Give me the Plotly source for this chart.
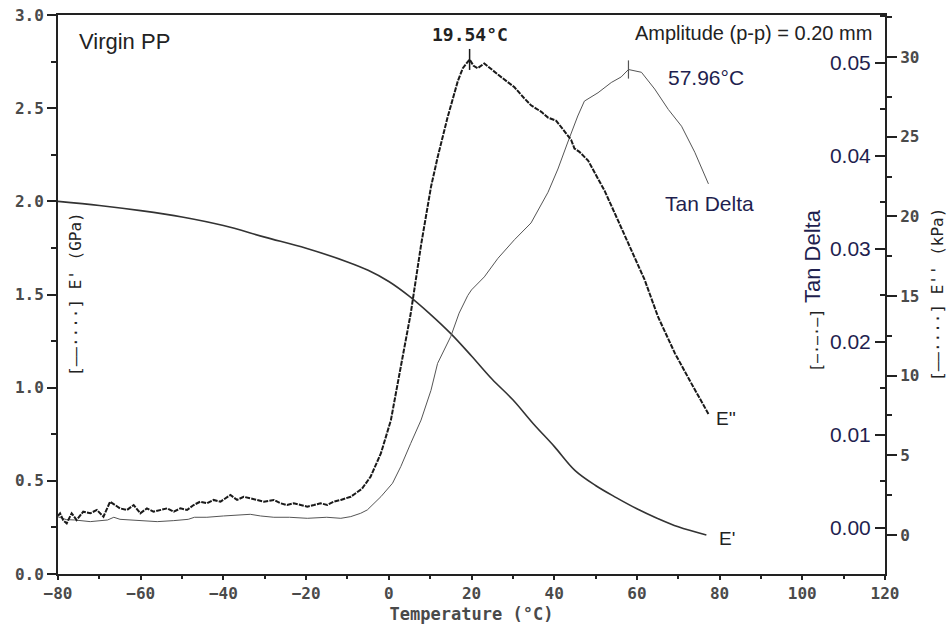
import plotly.graph_objects as go

# Storage modulus E' (GPa) vs temperature (°C)
temp_storage = [-80, -70, -60, -50, -40, -30, -20, -10, -5, 0, 5, 10,
                15, 20, 25, 30, 35, 40, 45, 50, 55, 60, 65, 70, 76.8]
e_storage_gpa = [2.000, 1.978, 1.950, 1.916, 1.870, 1.808, 1.748, 1.675, 1.630, 1.570, 1.490, 1.395,
                 1.290, 1.170, 1.045, 0.935, 0.805, 0.685, 0.556, 0.475, 0.410, 0.350, 0.298, 0.253, 0.209]

# Loss modulus E'' (kPa) vs temperature (°C)
temp_loss = [-80.0, -79.5, -78.7, -77.9, -76.7, -75.5, -73.9, -72.2, -70.6, -69.0, -67.4, -66.2,
             -65.0, -63.3, -61.7, -60.1, -58.5, -56.9, -55.3, -53.6, -52.0, -50.4, -48.8, -47.2,
             -45.6, -44.0, -42.4, -40.7, -38.3, -36.7, -35.1, -33.5, -31.8, -30.2, -27.8, -26.2,
             -24.6, -23.0, -21.3, -19.7, -18.1, -16.5, -14.9, -13.3, -11.6, -9.2, -6.5, -4.4,
             -1.9, 0.5, 2.9, 5.3, 7.8, 10.2, 11.8, 14.2, 16.7, 17.9, 19.54, 20.5,
             21.5, 23.1, 26.4, 30.4, 32.8, 34.4, 36.9, 38.5, 40.5, 42.5, 44.1, 44.9,
             46.1, 48.2, 52.2, 55.4, 58.7, 61.9, 65.1, 69.2, 73.2, 77.3]
e_loss_kpa = [1.2, 1.36, 0.9, 0.73, 1.36, 0.94, 1.46, 1.36, 1.57, 1.15, 2.09, 1.88,
              1.67, 1.57, 1.88, 1.36, 1.67, 1.46, 1.57, 1.67, 1.46, 1.67, 1.57, 1.88,
              2.09, 1.99, 2.20, 2.09, 2.51, 2.20, 2.40, 2.30, 2.20, 2.09, 2.20, 1.99,
              1.88, 1.99, 1.88, 1.78, 1.88, 1.99, 1.88, 2.09, 2.20, 2.40, 2.9, 3.66,
              5.13, 7.2, 10.56, 13.9, 18.2, 21.85, 23.7, 26.2, 28.5, 29.3, 29.85, 29.45,
              29.3, 29.6, 28.9, 28.1, 27.4, 26.97, 26.56, 26.2, 26.0, 25.3, 24.8, 24.26,
              24.05, 23.5, 21.6, 19.76, 17.9, 16.0, 13.7, 11.4, 9.5, 7.6]

# Tan Delta vs temperature (°C)
temp_tan = [-80.0, -78.0, -76.0, -72.2, -68.0, -66.5, -65.0, -60.0, -56.0, -52.0, -48.5, -47.0,
            -44.0, -40.0, -36.0, -33.5, -31.0, -27.8, -24.0, -19.7, -15.0, -11.6, -9.2, -6.8,
            -5.2, -1.9, 0.9, 2.9, 5.3, 7.8, 10.2, 11.8, 15.0, 17.0, 19.1, 20.0,
            23.1, 26.4, 30.4, 34.4, 38.5, 40.9, 43.3, 45.7, 47.3, 50.6, 53.8, 56.2,
            57.96, 61.1, 64.3, 67.6, 70.8, 74.0, 77.3]
tan_delta = [0.0012, 0.0009, 0.00086, 0.00068, 0.00086, 0.00115, 0.00093, 0.00079, 0.00068, 0.00079, 0.00093, 0.00115,
             0.00115, 0.00129, 0.0014, 0.00147, 0.00129, 0.00115, 0.00115, 0.00104, 0.00115, 0.00104, 0.00122, 0.00158,
             0.00194, 0.00337, 0.00481, 0.0066, 0.0091, 0.0116, 0.0148, 0.0177, 0.0206, 0.0231, 0.0250, 0.0256,
             0.0270, 0.0290, 0.0310, 0.0328, 0.0361, 0.0386, 0.0415, 0.0443, 0.0459, 0.0468, 0.0479, 0.0485,
             0.0493, 0.0490, 0.0472, 0.0450, 0.0432, 0.0404, 0.0370]

# Peak temperatures
peak_loss_temp = 19.54
peak_tan_temp = 57.96

x_ticks = [-80, -60, -40, -20, 0, 20, 40, 60, 80, 100, 120]
gpa_ticks = [0.0, 0.5, 1.0, 1.5, 2.0, 2.5, 3.0]
tan_ticks = [0.00, 0.01, 0.02, 0.03, 0.04, 0.05]
kpa_ticks = [0, 5, 10, 15, 20, 25, 30]

MONO = "DejaVu Sans Mono"
SANS = "Arial, Liberation Sans"
AXIS_GRAY = "#4a4a4a"
NAVY = "#1f1f4f"
INK = "#222222"

peak_loss_val = e_loss_kpa[temp_loss.index(peak_loss_temp)]
peak_tan_val = tan_delta[temp_tan.index(peak_tan_temp)]

fig = go.Figure()

fig.add_trace(go.Scatter(x=temp_storage, y=e_storage_gpa, mode="lines", name="E'",
                         line=dict(color="#333333", width=1.6, shape="spline", smoothing=1.0),
                         yaxis="y"))
fig.add_trace(go.Scatter(x=temp_loss, y=e_loss_kpa, mode="lines", name="E''",
                         line=dict(color="#1a1a1a", width=2.0, dash="5px,1.2px"), yaxis="y3"))
fig.add_trace(go.Scatter(x=temp_tan, y=tan_delta, mode="lines", name="Tan Delta",
                         line=dict(color="#555555", width=1.0), yaxis="y2"))

# peak tick marks
fig.add_trace(go.Scatter(x=[peak_loss_temp], y=[peak_loss_val], mode="markers", yaxis="y3",
                         marker=dict(symbol="line-ns", size=15, line=dict(color="#1a1a1a", width=1.5))))
fig.add_trace(go.Scatter(x=[peak_tan_temp], y=[peak_tan_val], mode="markers", yaxis="y2",
                         marker=dict(symbol="line-ns", size=13, line=dict(color="#555555", width=1.2))))

mono_tick = dict(family=MONO, size=16, color=AXIS_GRAY, weight="bold")

fig.update_layout(
    width=948, height=628,
    margin=dict(l=58, r=63, t=15, b=54),
    paper_bgcolor="white", plot_bgcolor="white",
    showlegend=False,
    xaxis=dict(
        range=[-80, 120], tickvals=x_ticks, showgrid=False, zeroline=False, automargin=False,
        showline=True, linecolor=INK, linewidth=2, mirror=True,
        ticks="outside", ticklen=4, tickwidth=1.5, tickcolor=INK,
        minor=dict(dtick=10, ticks="outside", ticklen=3, tickcolor=INK),
        tickfont=mono_tick,
        title=dict(text="Temperature (°C)", font=dict(family=MONO, size=17, color=AXIS_GRAY, weight="bold"),
                   standoff=6),
    ),
    yaxis=dict(
        range=[0, 3], tickvals=gpa_ticks, tickformat=".1f", showgrid=False, zeroline=False,
        showline=True, linecolor=INK, linewidth=2, automargin=False,
        ticks="outside", ticklen=9, tickwidth=1.5, tickcolor=INK,
        minor=dict(dtick=0.25, ticks="outside", ticklen=5, tickcolor=INK),
        tickfont=mono_tick,
    ),
    # Tan Delta scale: sits on the right frame edge, ticks and labels facing into the plot
    yaxis2=dict(
        range=[-0.00495, 0.05516], tickvals=tan_ticks, tickformat=".2f",
        overlaying="y", side="left", anchor="free", position=1.0,
        showgrid=False, zeroline=False, automargin=False,
        showline=False, ticks="outside", ticklen=10, tickwidth=1.5, tickcolor=INK,
        minor=dict(dtick=0.005, ticks="outside", ticklen=5, tickcolor=INK),
        tickfont=dict(family=SANS, size=21, color=NAVY),
    ),
    yaxis3=dict(
        range=[-2.45, 32.64], tickvals=kpa_ticks, overlaying="y", side="right", anchor="x",
        showgrid=False, zeroline=False, showline=True, linecolor=INK, linewidth=2, automargin=False,
        ticks="outside", ticklen=10, tickwidth=1.5, tickcolor=INK,
        minor=dict(dtick=2.5, ticks="outside", ticklen=5, tickcolor=INK),
        tickfont=mono_tick,
    ),
)

annotations = [
    dict(text="Virgin PP", x=-75.4, y=2.86, xref="x", yref="y", xanchor="left", yanchor="middle",
         showarrow=False, font=dict(family=SANS, size=22, color=INK)),
    dict(text=f"{peak_loss_temp:.2f}°C", x=peak_loss_temp, y=2.893, xref="x", yref="y",
         xanchor="center", yanchor="middle", showarrow=False,
         font=dict(family=MONO, size=18, color=INK, weight="bold")),
    dict(text="Amplitude (p-p) = 0.20 mm", x=88.2, y=2.903, xref="x", yref="y",
         xanchor="center", yanchor="middle", showarrow=False, font=dict(family=SANS, size=20, color=INK)),
    dict(text=f"{peak_tan_temp:.2f}°C", x=76.8, y=2.662, xref="x", yref="y",
         xanchor="center", yanchor="middle", showarrow=False, font=dict(family=SANS, size=21, color=NAVY)),
    dict(text="Tan Delta", x=77.6, y=1.986, xref="x", yref="y",
         xanchor="center", yanchor="middle", showarrow=False, font=dict(family=SANS, size=21, color=NAVY)),
    dict(text="E''", x=78.6, y=0.832, xref="x", yref="y",
         xanchor="left", yanchor="middle", showarrow=False, font=dict(family=SANS, size=19, color=INK)),
    dict(text="E'", x=79.4, y=0.188, xref="x", yref="y",
         xanchor="left", yanchor="middle", showarrow=False, font=dict(family=SANS, size=19, color=INK)),
    # axis titles
    dict(text="[——····] E' (GPa)", x=75, y=294, xref="paper", yref="paper", textangle=-90,
         showarrow=False, font=dict(family=MONO, size=16, color=INK)),
    dict(text="[——····] E'' (kPa)", x=937, y=295, xref="paper", yref="paper", textangle=-90,
         showarrow=False, font=dict(family=MONO, size=16, color=INK)),
    dict(text="Tan Delta", x=812, y=256, xref="paper", yref="paper", textangle=-90,
         showarrow=False, font=dict(family=SANS, size=22, color=NAVY)),
    dict(text="[—·—·—]", x=817, y=341, xref="paper", yref="paper", textangle=-90,
         showarrow=False, font=dict(family=MONO, size=15, color=INK)),
]

# convert the pixel placements of the rotated titles into paper fractions
plot_l, plot_r, plot_t, plot_b = 58, 885, 15, 574
for a in annotations:
    if a["xref"] == "paper":
        a["x"] = (a["x"] - plot_l) / (plot_r - plot_l)
        a["y"] = (plot_b - a["y"]) / (plot_b - plot_t)
        a["xanchor"] = "center"
        a["yanchor"] = "middle"

fig.update_layout(annotations=annotations)

fig.write_html("out.html")
